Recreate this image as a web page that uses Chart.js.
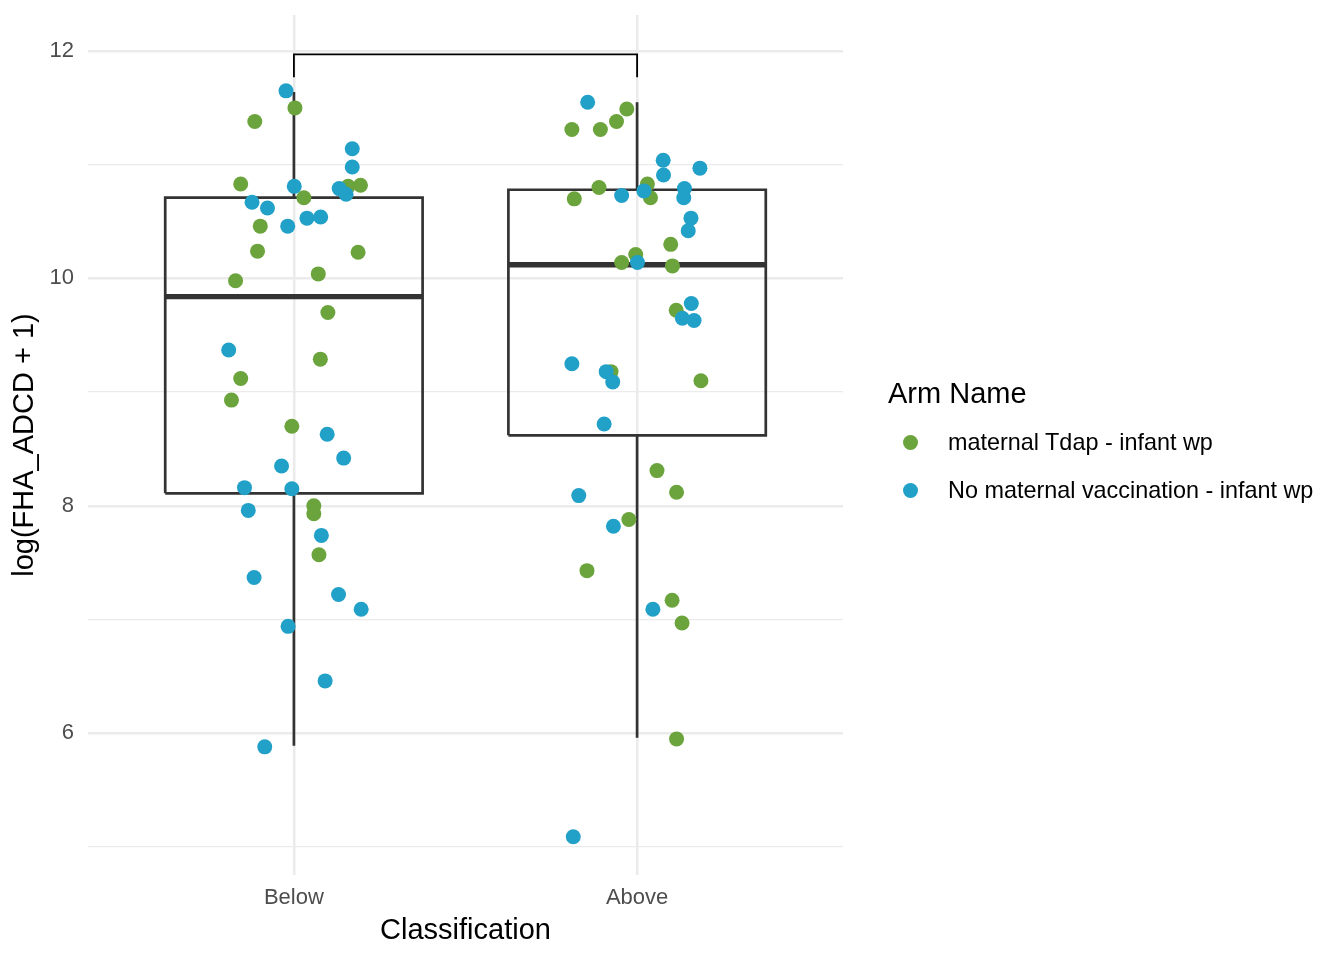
<!DOCTYPE html>
<html>
<head>
<meta charset="utf-8">
<title>FHA_ADCD by classification</title>
<script src="https://cdn.jsdelivr.net/npm/chart.js@4.4.0/dist/chart.umd.min.js"></script>
<style>
	body { margin: 0; background: #ffffff; }
	#wrap { position: relative; width: 1344px; height: 960px; }
	#legend { position: absolute; left: 0; top: 0; font-family: "Liberation Sans", Arial, sans-serif; color: #000; }
	#legend .title { position: absolute; left: 888px; top: 375px; font-size: 29px; line-height: 36px; white-space: nowrap; }
	#legend .item { position: absolute; left: 903px; height: 30px; white-space: nowrap; font-size: 23.4px; line-height: 30px; }
	#legend .dot { position: absolute; left: 0; top: 8px; width: 15px; height: 15px; border-radius: 50%; }
	#legend .lab { position: absolute; left: 45px; top: 0; }
</style>
</head>
<body>
<div id="wrap">
	<canvas id="chart" width="1344" height="960"></canvas>
	<div id="legend">
		<div class="title">Arm Name</div>
		<div class="item" style="top:427px"><span class="dot" style="background:#6ba43c"></span><span class="lab">maternal Tdap - infant wp</span></div>
		<div class="item" style="top:475px"><span class="dot" style="background:#21a0c8"></span><span class="lab">No maternal vaccination - infant wp</span></div>
	</div>
</div>
<script>
//==================== data ====================
const categories = ['Below', 'Above'];

// box plot summary per category
const boxLow = [5.89, 5.96];
const boxQ1 = [8.11, 8.62];
const boxMedian = [9.84, 10.12];
const boxQ3 = [10.71, 10.78];
const boxHigh = [11.64, 11.55];

// significance bracket between the two groups
const bracketTop = 11.97;
const bracketTip = 11.77;

// y axis ticks (labels only on even values)
const yTicks = [5, 6, 7, 8, 9, 10, 11, 12];

// maternal Tdap - infant wp (x = category position 1/2 + jitter)
const tdapX = [0.886, 1.003, 0.845, 1.158, 1.194, 1.029, 0.902, 0.894, 1.187, 1.071,
	0.830, 1.099, 1.077, 0.845, 0.818, 0.994, 1.058, 1.058, 1.073];
const tdapY = [11.38, 11.50, 10.83, 10.81, 10.82, 10.71, 10.46, 10.24, 10.23, 10.04,
	9.98, 9.70, 9.29, 9.12, 8.93, 8.70, 8.00, 7.93, 7.57];
const tdapX2 = [1.970, 1.940, 1.810, 1.893, 1.889, 2.030, 1.817, 2.039, 2.098, 1.996, 1.955,
	2.103, 2.114, 1.924, 2.186, 2.058, 2.115, 1.976, 1.854, 2.102, 2.131, 2.115];
const tdapY2 = [11.49, 11.38, 11.31, 11.31, 10.80, 10.83, 10.70, 10.71, 10.30, 10.21, 10.14,
	10.11, 9.72, 9.18, 9.10, 8.31, 8.12, 7.88, 7.43, 7.17, 6.97, 5.95];

// No maternal vaccination - infant wp
const noVaxX = [0.977, 1.170, 1.170, 1.001, 1.132, 1.152, 0.878, 0.923, 0.982, 1.038, 1.078,
	0.810, 1.097, 1.145, 0.964, 0.856, 0.994, 0.867, 1.080, 0.884, 1.130, 1.196, 0.983, 1.091, 0.915];
const noVaxY = [11.65, 11.14, 10.98, 10.81, 10.79, 10.74, 10.67, 10.62, 10.46, 10.53, 10.54,
	9.37, 8.63, 8.42, 8.35, 8.16, 8.15, 7.96, 7.74, 7.37, 7.22, 7.09, 6.94, 6.46, 5.88];
const noVaxX2 = [1.856, 2.076, 2.183, 2.077, 2.020, 1.955, 2.138, 2.136, 2.157, 2.149, 2.001,
	2.158, 2.132, 2.166, 1.810, 1.910, 1.929, 1.904, 1.830, 1.931, 2.046, 1.814];
const noVaxY2 = [11.55, 11.04, 10.97, 10.91, 10.77, 10.73, 10.79, 10.71, 10.53, 10.42, 10.14,
	9.78, 9.65, 9.63, 9.25, 9.18, 9.09, 8.72, 8.09, 7.82, 7.09, 5.09];
//===============================================

const FONT = '"Liberation Sans", Arial, sans-serif';
const BOX_HALF = 0.375;

function pts(xs, ys) {
	// x arrays hold 1-based positions; shift to the 0-based axis
	return xs.map((x, i) => ({ x: x - 1, y: ys[i] }));
}

const datasets = [];
// points: blue first so it is drawn on top of green
datasets.push({
	label: 'No maternal vaccination - infant wp',
	data: pts(noVaxX, noVaxY).concat(pts(noVaxX2, noVaxY2)),
	backgroundColor: '#21a0c8',
	borderWidth: 0,
	pointRadius: 7.5,
	pointHoverRadius: 7.5,
	showLine: false
});
datasets.push({
	label: 'maternal Tdap - infant wp',
	data: pts(tdapX, tdapY).concat(pts(tdapX2, tdapY2)),
	backgroundColor: '#6ba43c',
	borderWidth: 0,
	pointRadius: 7.5,
	pointHoverRadius: 7.5,
	showLine: false
});

function segment(data, width, color) {
	datasets.push({
		label: '',
		data: data,
		showLine: true,
		fill: false,
		borderColor: color,
		borderWidth: width,
		borderCapStyle: 'butt',
		borderJoinStyle: 'miter',
		pointRadius: 0,
		pointHoverRadius: 0,
		tension: 0
	});
}

categories.forEach((c, i) => {
	const l = i - BOX_HALF, r = i + BOX_HALF;
	// box outline
	segment([{x: l, y: boxQ1[i]}, {x: r, y: boxQ1[i]}, {x: r, y: boxQ3[i]},
		{x: l, y: boxQ3[i]}, {x: l, y: boxQ1[i]}], 2.7, '#333333');
	// median
	segment([{x: l, y: boxMedian[i]}, {x: r, y: boxMedian[i]}], 5.4, '#333333');
	// whiskers
	segment([{x: i, y: boxQ3[i]}, {x: i, y: boxHigh[i]}], 2.7, '#333333');
	segment([{x: i, y: boxQ1[i]}, {x: i, y: boxLow[i]}], 2.7, '#333333');
});

// bracket
segment([{x: 0, y: bracketTip}, {x: 0, y: bracketTop}, {x: 1, y: bracketTop}, {x: 1, y: bracketTip}], 1.8, '#000000');

const ctx = document.getElementById('chart').getContext('2d');
const myChart = new Chart(ctx, {
	type: 'scatter',
	data: { datasets: datasets },
	options: {
		responsive: false,
		animation: false,
		events: [],
		layout: { padding: { left: 0, right: 501, top: 15, bottom: 0 } },
		plugins: {
			legend: { display: false },
			tooltip: { enabled: false }
		},
		scales: {
			x: {
				type: 'linear',
				min: -0.6,
				max: 1.6,
				afterBuildTicks: scale => { scale.ticks = categories.map((c, i) => ({ value: i })); },
				afterFit: scale => { scale.height = 85; scale.paddingLeft = 0; scale.paddingRight = 0; },
				border: { display: false },
				grid: { color: '#ebebeb', lineWidth: 2.5, drawTicks: false },
				ticks: {
					padding: 10,
					color: '#4d4d4d',
					font: { family: FONT, size: 22 },
					maxRotation: 0,
					callback: v => categories[v]
				},
				title: {
					display: true,
					text: 'Classification',
					color: '#000000',
					font: { family: FONT, size: 29 },
					padding: { top: 0, bottom: 12 }
				}
			},
			y: {
				type: 'linear',
				min: 4.753,
				max: 12.317,
				afterBuildTicks: scale => { scale.ticks = yTicks.map(v => ({ value: v })); },
				afterFit: scale => { scale.width = 88; scale.paddingTop = 0; scale.paddingBottom = 0; },
				border: { display: false },
				grid: {
					color: '#ebebeb',
					drawTicks: false,
					lineWidth: c => (c.tick && c.tick.value % 2 === 0) ? 2.5 : 1.3
				},
				ticks: {
					padding: 14,
					color: '#4d4d4d',
					font: { family: FONT, size: 22 },
					callback: v => (v % 2 === 0 ? v : '')
				},
				title: {
					display: true,
					text: 'log(FHA_ADCD + 1)',
					color: '#000000',
					font: { family: FONT, size: 29 },
					padding: { top: 8, bottom: 0 }
				}
			}
		}
	}
});
</script>
</body>
</html>
